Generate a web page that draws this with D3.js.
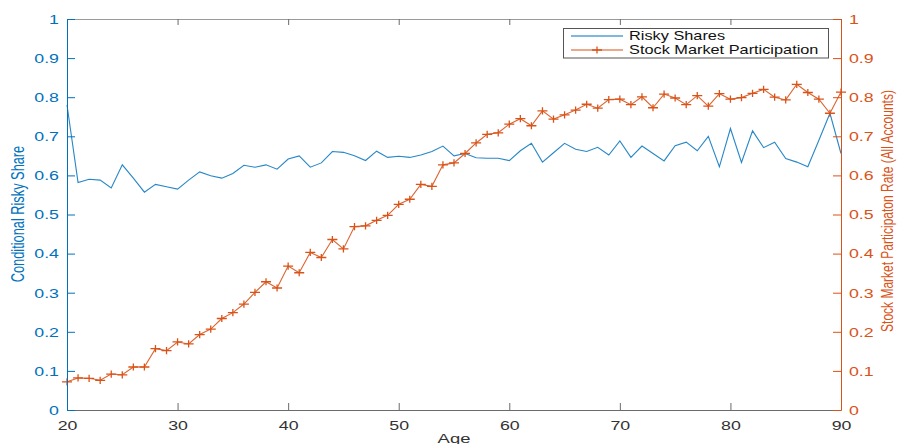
<!DOCTYPE html>
<html>
<head>
<meta charset="utf-8">
<script src="https://cdn.jsdelivr.net/npm/d3@7"></script>
<style>
  html, body { margin: 0; padding: 0; background: #fff; }
  svg { display: block; font-family: "Liberation Sans", Arial, Helvetica, sans-serif; }
</style>
</head>
<body>
<svg id="chart" width="900" height="444"></svg>
<script>
// Age on the horizontal axis
const ages = [20,21,22,23,24,25,26,27,28,29,30,31,32,33,34,35,36,37,38,39,40,
              41,42,43,44,45,46,47,48,49,50,51,52,53,54,55,56,57,58,59,60,
              61,62,63,64,65,66,67,68,69,70,71,72,73,74,75,76,77,78,79,80,
              81,82,83,84,85,86,87,88,89,90];

// Conditional risky share (left axis)
const riskyShares = [0.780,0.582,0.590,0.588,0.568,0.627,0.593,0.557,0.577,0.571,0.565,
                     0.588,0.609,0.599,0.593,0.605,0.626,0.621,0.627,0.616,0.642,
                     0.650,0.621,0.632,0.661,0.659,0.650,0.638,0.662,0.646,0.649,
                     0.646,0.652,0.661,0.675,0.650,0.656,0.645,0.644,0.644,0.638,
                     0.663,0.682,0.634,0.658,0.682,0.667,0.661,0.672,0.652,0.688,
                     0.646,0.675,0.656,0.637,0.676,0.685,0.663,0.700,0.622,0.720,
                     0.633,0.714,0.671,0.685,0.643,0.634,0.622,0.690,0.759,0.656];

// Stock market participation rate, all accounts (right axis)
const participation = [0.072,0.082,0.081,0.076,0.092,0.090,0.110,0.110,0.157,0.152,0.174,
                       0.169,0.193,0.207,0.234,0.249,0.271,0.301,0.328,0.312,0.368,
                       0.351,0.403,0.390,0.436,0.412,0.469,0.471,0.485,0.498,0.526,
                       0.539,0.577,0.572,0.627,0.632,0.656,0.683,0.705,0.709,0.731,
                       0.745,0.727,0.765,0.744,0.755,0.767,0.782,0.772,0.794,0.795,
                       0.781,0.801,0.773,0.808,0.798,0.781,0.804,0.777,0.809,0.795,
                       0.799,0.810,0.820,0.800,0.793,0.833,0.812,0.795,0.759,0.813];

const xTicks = [20,30,40,50,60,70,80,90];
const yTicks = [0,0.1,0.2,0.3,0.4,0.5,0.6,0.7,0.8,0.9,1];
const seriesNames = ["Risky Shares", "Stock Market Participation"];

const BLUE = "#0072BD", ORANGE = "#D95319", AXIS = "#6b6b6b", TEXT = "#333";
const SX = 1.42; // horizontal glyph stretch

const W = 900, H = 444;
const m = { left: 67, right: 59, top: 19, bottom: 34 };
const svg = d3.select("#chart");

const x = d3.scaleLinear().domain([20, 90]).range([m.left, W - m.right]);
const yL = d3.scaleLinear().domain([0, 1]).range([H - m.bottom, m.top]);
const yR = d3.scaleLinear().domain([0, 1]).range([H - m.bottom, m.top]);

const fmt = d => d === 0 ? "0" : d === 1 ? "1" : d3.format(".1f")(d);

// lines
const lineL = d3.line().x((d, i) => x(ages[i])).y(d => yL(d));
const lineR = d3.line().x((d, i) => x(ages[i])).y(d => yR(d));

svg.append("path").datum(riskyShares)
  .attr("d", lineL).attr("fill", "none")
  .attr("stroke", BLUE).attr("stroke-width", 1.1).attr("stroke-opacity", 0.85);

svg.append("path").datum(participation)
  .attr("d", lineR).attr("fill", "none")
  .attr("stroke", ORANGE).attr("stroke-width", 1.1).attr("stroke-opacity", 0.9);

const plusPath = "M-5,0H5M0,-3.6V3.6";
svg.append("g").selectAll("path").data(participation).join("path")
  .attr("transform", (d, i) => `translate(${x(ages[i])},${yR(d)})`)
  .attr("d", plusPath).attr("stroke", ORANGE).attr("stroke-width", 1.3).attr("fill", "none");

// axes
function styleAxis(g, color) {
  g.select(".domain").attr("stroke", color).attr("stroke-width", 1);
  g.selectAll(".tick line").attr("stroke", color).attr("stroke-width", 1);
}

const axisB = svg.append("g").attr("transform", `translate(0,${H - m.bottom})`)
  .call(d3.axisBottom(x).tickValues(xTicks).tickSizeInner(-7).tickSizeOuter(0).tickFormat(d3.format("d")));
styleAxis(axisB, AXIS);
axisB.selectAll(".tick text").attr("fill", TEXT).attr("font-size", 12.5)
  .attr("y", 0).attr("dy", 0).attr("transform", `translate(0,20) scale(${SX},1)`);

const axisT = svg.append("g").attr("transform", `translate(0,${m.top})`)
  .call(d3.axisTop(x).tickValues(xTicks).tickSizeInner(-6).tickSizeOuter(0).tickFormat(""));
styleAxis(axisT, AXIS);
axisT.selectAll(".domain").attr("stroke", "#9a9a9a");

const axisL = svg.append("g").attr("transform", `translate(${m.left},0)`)
  .call(d3.axisLeft(yL).tickValues(yTicks).tickSizeInner(-8).tickSizeOuter(0).tickFormat(fmt));
styleAxis(axisL, BLUE);
axisL.selectAll(".tick text").attr("fill", BLUE).attr("font-size", 12.5)
  .attr("x", 0).attr("dy", "0.35em").attr("text-anchor", "end")
  .attr("transform", `translate(-8,0) scale(${SX},1)`);

const axisR = svg.append("g").attr("transform", `translate(${W - m.right},0)`)
  .call(d3.axisRight(yR).tickValues(yTicks).tickSizeInner(-8).tickSizeOuter(0).tickFormat(fmt));
styleAxis(axisR, ORANGE);
axisR.selectAll(".tick text").attr("fill", ORANGE).attr("font-size", 12.5)
  .attr("x", 0).attr("dy", "0.35em").attr("text-anchor", "start")
  .attr("transform", `translate(8,0) scale(${SX},1)`);

svg.selectAll(".tick text").attr("font-family", "'Liberation Sans', Arial, sans-serif");

// axis titles
svg.append("text")
  .attr("transform", `translate(${(m.left + W - m.right) / 2},${H - 1}) scale(${SX},1)`)
  .attr("text-anchor", "middle").attr("font-size", 13).attr("fill", TEXT)
  .text("Age");

svg.append("text")
  .attr("transform", `translate(24,214) rotate(-90) scale(1,${SX})`)
  .attr("text-anchor", "middle").attr("font-size", 12.8).attr("fill", BLUE)
  .text("Conditional Risky Share");

svg.append("text")
  .attr("transform", `translate(893,211) rotate(-90) scale(1,${SX})`)
  .attr("text-anchor", "middle").attr("font-size", 12).attr("fill", ORANGE)
  .text("Stock Market Participaton Rate (All Accounts)");

// legend
const lg = svg.append("g");
lg.append("rect").attr("x", 563.5).attr("y", 28.5).attr("width", 265).attr("height", 29.5)
  .attr("fill", "#fff").attr("stroke", "#555").attr("stroke-width", 1);

const rows = [
  { name: seriesNames[0], color: BLUE, y: 36, marker: false },
  { name: seriesNames[1], color: ORANGE, y: 50, marker: true }
];
rows.forEach(r => {
  lg.append("line").attr("x1", 571).attr("x2", 623).attr("y1", r.y).attr("y2", r.y)
    .attr("stroke", r.color).attr("stroke-width", 1.1);
  if (r.marker) {
    lg.append("path").attr("transform", `translate(597,${r.y})`).attr("d", plusPath)
      .attr("stroke", r.color).attr("stroke-width", 1.3).attr("fill", "none");
  }
  lg.append("text").attr("transform", `translate(629,${r.y + 4.3}) scale(1.36,1)`)
    .attr("font-size", 12).attr("fill", "#111").text(r.name);
});
</script>
</body>
</html>
